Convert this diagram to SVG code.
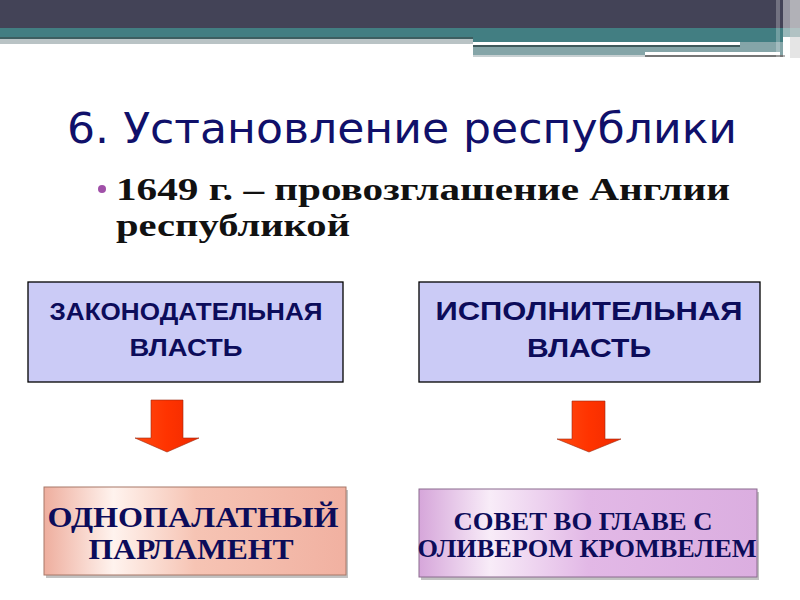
<svg xmlns="http://www.w3.org/2000/svg" width="800" height="600" viewBox="0 0 800 600">
<defs>
<style>
.title{font-family:"DejaVu Sans",Verdana,sans-serif;font-size:43px;fill:#10106a}
.bul{font-family:"Liberation Serif","Times New Roman",serif;font-weight:bold;font-size:32px;fill:#111}
.bx{fill:#cbcbf6;stroke:#000;stroke-width:1.3}
.bt{font-family:"Liberation Sans",Arial,sans-serif;font-weight:bold;fill:#0c0c5a;text-anchor:middle}
.st{font-family:"Liberation Serif","Times New Roman",serif;font-weight:bold;fill:#0c0c5a;text-anchor:middle}
.arr{fill:url(#ag);stroke:#9a2a10;stroke-width:0.6}
.sh{fill:#9a9a9a;opacity:0.6}
</style>
<linearGradient id="pg" x1="0" y1="0" x2="1" y2="0">
<stop offset="0" stop-color="#eeae9e"/>
<stop offset="0.23" stop-color="#fff3ee"/>
<stop offset="0.5" stop-color="#f6c4b4"/>
<stop offset="1" stop-color="#f1b1a1"/>
</linearGradient>
<linearGradient id="vg" x1="0" y1="0" x2="1" y2="0">
<stop offset="0" stop-color="#d6a6da"/>
<stop offset="0.21" stop-color="#f8ecf8"/>
<stop offset="0.5" stop-color="#e2b8e6"/>
<stop offset="1" stop-color="#dbaee0"/>
</linearGradient>
<linearGradient id="ag" x1="0" y1="0" x2="1" y2="0">
<stop offset="0" stop-color="#ff4a10"/>
<stop offset="0.5" stop-color="#ff3300"/>
<stop offset="1" stop-color="#f02a00"/>
</linearGradient>
</defs>
<rect width="800" height="600" fill="#fff"/>
<g id="header">
<rect x="0" y="0" width="800" height="28" fill="#434357"/>
<rect x="0" y="28" width="800" height="9" fill="#427e82"/>
<rect x="0" y="37" width="473" height="2" fill="#3d5e60"/>
<rect x="0" y="39" width="473" height="5" fill="#b9c3c5"/>
<rect x="473" y="37" width="310" height="5" fill="#427e82"/>
<rect x="473" y="42" width="267" height="3" fill="#ffffff"/>
<rect x="473" y="45" width="267" height="2" fill="#3f5a5c"/>
<rect x="740" y="42" width="43" height="13" fill="#85a5a8"/>
<rect x="473" y="47" width="267" height="8" fill="#85a5a8"/>
<rect x="645" y="52" width="135" height="3" fill="#ffffff"/>
<rect x="645" y="55" width="140" height="2" fill="#777"/>
<rect x="473" y="55" width="172" height="2" fill="#c8d0d2"/>
<rect x="776" y="0" width="4" height="57" fill="#fff" opacity="0.25"/>
<rect x="783" y="0" width="17" height="58" fill="#fff" opacity="0.45"/>
<rect x="790" y="0" width="10" height="58" fill="#ccc" opacity="0.5"/>
</g>
<g id="title">
<text class="title" x="67" y="143" textLength="670" lengthAdjust="spacingAndGlyphs">6. Установление республики</text>
</g>
<g id="bullet">
<circle cx="102" cy="189" r="4" fill="#a050a8"/>
<text class="bul" x="116" y="200" textLength="614" lengthAdjust="spacingAndGlyphs">1649 г. – провозглашение Англии</text>
<text class="bul" x="116" y="236" textLength="234" lengthAdjust="spacingAndGlyphs">республикой</text>
</g>
<g id="legislative">
<rect class="bx" x="28" y="282" width="315" height="100"/>
<text class="bt" x="186" y="320" font-size="23" textLength="273" lengthAdjust="spacingAndGlyphs">ЗАКОНОДАТЕЛЬНАЯ</text>
<text class="bt" x="186" y="356" font-size="23" textLength="113" lengthAdjust="spacingAndGlyphs">ВЛАСТЬ</text>
</g>
<g id="executive">
<rect class="bx" x="419" y="282" width="341" height="100"/>
<text class="bt" x="589" y="320" font-size="25" textLength="307" lengthAdjust="spacingAndGlyphs">ИСПОЛНИТЕЛЬНАЯ</text>
<text class="bt" x="589" y="357" font-size="25" textLength="124" lengthAdjust="spacingAndGlyphs">ВЛАСТЬ</text>
</g>
<g id="connectors">
<polygon class="arr" points="151,400 183,400 183,438 199,438 167,452 135,438 151,438"/>
<polygon class="arr" points="572,401 605,401 605,439 621,439 589,452 557,439 572,439"/>
</g>
<g id="parliament">
<rect class="sh" x="46" y="490" width="302" height="88"/>
<rect x="44" y="487" width="302" height="88" fill="url(#pg)" stroke="#a87868" stroke-width="1"/>
<text class="st" x="193" y="527" font-size="29" textLength="291" lengthAdjust="spacingAndGlyphs">ОДНОПАЛАТНЫЙ</text>
<text class="st" x="191" y="559" font-size="29" textLength="205" lengthAdjust="spacingAndGlyphs">ПАРЛАМЕНТ</text>
</g>
<g id="council">
<rect class="sh" x="421" y="492" width="338" height="88"/>
<rect x="419" y="489" width="338" height="88" fill="url(#vg)" stroke="#8a6a8e" stroke-width="1"/>
<text class="st" x="583" y="530" font-size="25" textLength="259" lengthAdjust="spacingAndGlyphs">СОВЕТ ВО ГЛАВЕ С</text>
<text class="st" x="587" y="557" font-size="25" textLength="339" lengthAdjust="spacingAndGlyphs">ОЛИВЕРОМ КРОМВЕЛЕМ</text>
</g>
</svg>
